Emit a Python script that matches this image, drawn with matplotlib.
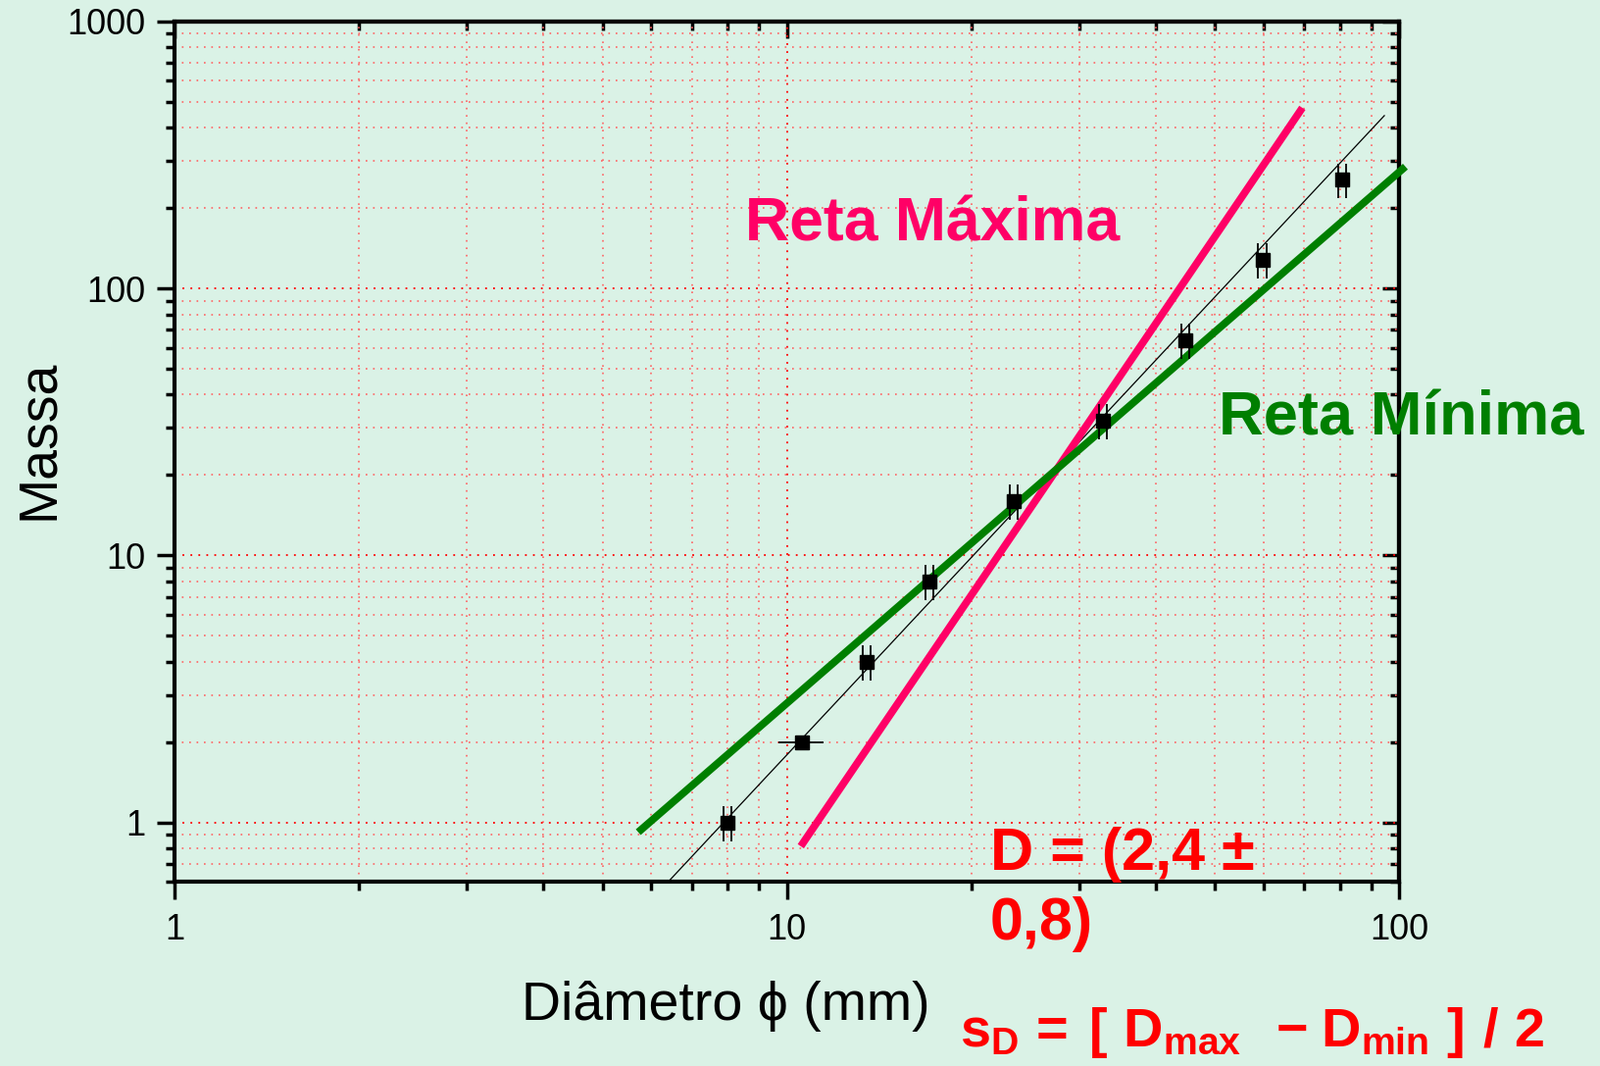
import numpy as np
import matplotlib
matplotlib.use('Agg')
import matplotlib.pyplot as plt
from matplotlib.ticker import LogLocator, NullFormatter, FixedLocator, FixedFormatter
from matplotlib.transforms import ScaledTranslation

# fontes
plt.rcParams['font.family'] = ['Liberation Sans', 'DejaVu Sans']
plt.rcParams['mathtext.fontset'] = 'custom'
plt.rcParams['mathtext.bf'] = 'Liberation Sans:bold'
plt.rcParams['mathtext.rm'] = 'Liberation Sans:bold'

# dados
diametro = [8.0, 10.6, 13.5, 17.1, 23.5, 32.8, 44.7, 59.8, 80.8]
massa = [1, 2, 4, 8, 16, 32, 64, 128, 256]
erro_massa = [0.15, 0, 0.6, 1.2, 2.4, 4.8, 9.6, 19.2, 38.4]
erro_diam = [0, 0.9, 0, 0, 0, 0, 0, 0, 0]

# retas  y = A * x^B
ajuste_A, ajuste_B, ajuste_x = 0.00629, 2.454, [6.0, 94.6]
maxima_A, maxima_B, maxima_x = 0.000286, 3.377, [10.54, 69.5]
minima_A, minima_B, minima_x = 0.02858, 1.990, [5.72, 102.4]

fundo = '#DAF2E6'
rosa = '#FF0066'
verde = '#007F00'
vermelho = '#FF0000'

fig = plt.figure(figsize=(16.33, 10.87), dpi=100, facecolor=fundo)
ax = fig.add_axes([0.109, 0.173, 0.7649, 0.8068], facecolor=fundo)
ax.set_xscale('log')
ax.set_yscale('log')
ax.set_xlim(1, 100)
ax.set_ylim(0.6, 1000)

# grade pontilhada vermelha
ax.grid(True, which='major', color='#FF0000', linestyle=(0, (1, 3.5)), linewidth=1.3)
ax.grid(True, which='minor', color='#FF6464', linestyle=(0, (1, 3.5)), linewidth=1.2)
ax.set_axisbelow(True)

# retas
def reta(A, B, xs):
    x = np.logspace(np.log10(xs[0]), np.log10(xs[1]), 50)
    return x, A * x ** B

x, y = reta(ajuste_A, ajuste_B, ajuste_x)
ax.plot(x, y, color='black', linewidth=0.9, zorder=3)
x, y = reta(maxima_A, maxima_B, maxima_x)
ax.plot(x, y, color=rosa, linewidth=5.5, solid_capstyle='butt', clip_on=False, zorder=4)
x, y = reta(minima_A, minima_B, minima_x)
ax.plot(x, y, color=verde, linewidth=5.5, solid_capstyle='butt', clip_on=False, zorder=4)

# barras de erro (desenhadas como duas linhas paralelas)
m = np.array(massa, dtype=float)
em = np.array(erro_massa)
d = np.array(diametro)
ed = np.array(erro_diam)
tem_y = em > 0
for dx in (-3.0, 3.0):
    tr = ax.transData + ScaledTranslation(dx / 72, 0, fig.dpi_scale_trans)
    ax.vlines(d[tem_y], (m - em)[tem_y], (m + em)[tem_y], colors='black',
              linewidth=1.3, transform=tr, zorder=5)
tem_x = ed > 0
ax.hlines(m[tem_x], (d - ed)[tem_x], (d + ed)[tem_x], colors='black', linewidth=1.3, zorder=5)
ax.plot(diametro, massa, 's', color='black', markersize=9.5, zorder=6)

# eixos
for s in ax.spines.values():
    s.set_linewidth(3)
ax.xaxis.set_major_locator(FixedLocator([1, 10, 100]))
ax.xaxis.set_major_formatter(FixedFormatter(['1', '10', '100']))
ax.yaxis.set_major_locator(FixedLocator([1, 10, 100, 1000]))
ax.yaxis.set_major_formatter(FixedFormatter(['1', '10', '100', '1000']))
ax.xaxis.set_minor_locator(LogLocator(base=10, subs=np.arange(2, 10), numticks=20))
ax.yaxis.set_minor_locator(LogLocator(base=10, subs=np.arange(2, 10), numticks=20))
ax.xaxis.set_minor_formatter(NullFormatter())
ax.yaxis.set_minor_formatter(NullFormatter())
ax.tick_params(which='major', direction='out', length=13, width=2.5, labelsize=26, pad=8)
ax.tick_params(which='minor', direction='out', length=6.5, width=2.5)
ax.tick_params(axis='x', which='major', pad=10)

# ticks internos no topo e à direita
sx = ax.secondary_xaxis('top')
sx.xaxis.set_major_locator(FixedLocator([1, 10, 100]))
sx.xaxis.set_minor_locator(LogLocator(base=10, subs=np.arange(2, 10), numticks=20))
sx.xaxis.set_major_formatter(NullFormatter())
sx.xaxis.set_minor_formatter(NullFormatter())
sx.tick_params(which='major', direction='in', length=12, width=2.5)
sx.tick_params(which='minor', direction='in', length=6.5, width=2.5)
sx.spines['top'].set_linewidth(3)
sy = ax.secondary_yaxis('right')
sy.yaxis.set_major_locator(FixedLocator([1, 10, 100, 1000]))
sy.yaxis.set_minor_locator(LogLocator(base=10, subs=np.arange(2, 10), numticks=20))
sy.yaxis.set_major_formatter(NullFormatter())
sy.yaxis.set_minor_formatter(NullFormatter())
sy.tick_params(which='major', direction='in', length=12, width=2.5)
sy.tick_params(which='minor', direction='in', length=6.5, width=2.5)
sy.spines['right'].set_linewidth(3)

# rótulos
ax.set_xlabel('Diâmetro ϕ (mm)', fontsize=40)
ax.xaxis.set_label_coords(0.450, -0.145)
ax.xaxis.label.set_va('center')
ax.set_ylabel('Massa', fontsize=40)
ax.yaxis.set_label_coords(-0.1108, 0.514)
ax.yaxis.label.set_va('center')

# anotações
ax.text(0.466, 0.764, 'Reta Máxima', transform=ax.transAxes, color=rosa,
        fontsize=45, fontweight='bold', ha='left', va='center')
ax.text(0.853, 0.538, 'Reta Mínima', transform=ax.transAxes, color=verde,
        fontsize=45.5, fontweight='bold', ha='left', va='center')
ax.text(0.666, 0.0137, 'D = (2,4 ±', transform=ax.transAxes, color=vermelho,
        fontsize=44, fontweight='bold', ha='left', va='baseline')
ax.text(0.666, -0.0673, '0,8)', transform=ax.transAxes, color=vermelho,
        fontsize=44, fontweight='bold', ha='left', va='baseline')
t3 = ax.text(0.6413, -0.1916,
             r'$\mathbf{s_D\hspace{0.1}=\hspace{0.2}[\hspace{0.3}D_{max}\hspace{0.45}-\hspace{0.05}D_{min}\hspace{0.3}]\hspace{0.35}/\hspace{0.3}2}$',
             transform=ax.transAxes, color=vermelho, fontsize=44, ha='left', va='baseline')

# ajusta a largura da fórmula do desvio (≈ 597 px no original)
r = fig.canvas.get_renderer()
larg = t3.get_window_extent(renderer=r).width
t3.set_fontsize(min(44, 44 * 597 / larg))

fig.savefig('out.png', dpi=100, facecolor=fundo)
